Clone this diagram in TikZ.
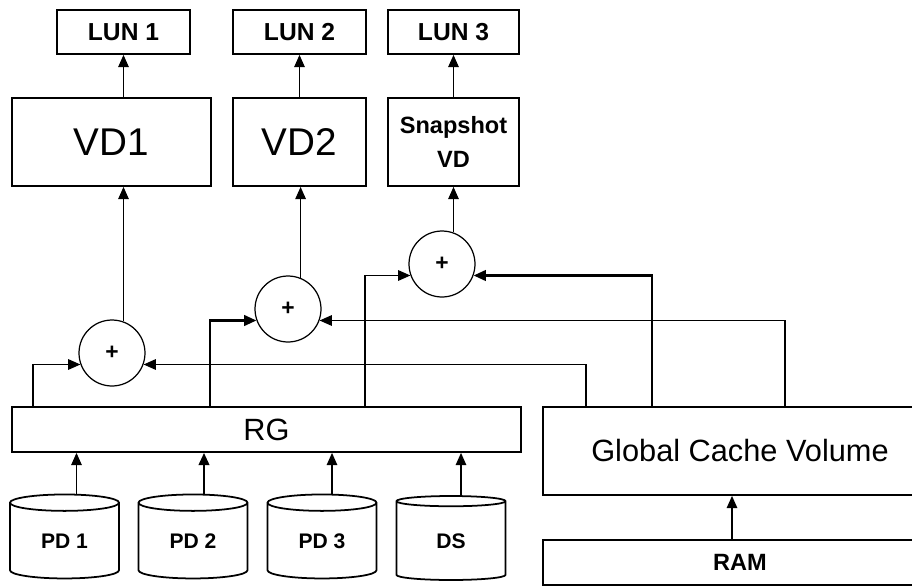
\documentclass[tikz,border=0pt]{standalone}
\usepackage{fontspec}
\setmainfont{Liberation Sans}
\usetikzlibrary{arrows.meta,shapes.geometric,calc}

\begin{document}
\begin{tikzpicture}[x=0.02cm, y=-0.02cm,
    blk/.style={draw, line width=1pt, inner sep=0pt, align=center},
    sum/.style={draw, circle, line width=0.7pt, minimum size=1.32cm,
                inner sep=0pt, font=\bfseries\fontsize{13}{15}\selectfont},
    disk/.style={draw, cylinder, shape border rotate=90, aspect=0.35,
                 line width=1pt, minimum width=2.18cm, minimum height=1.68cm,
                 inner sep=0pt, font=\bfseries\fontsize{12}{14}\selectfont},
    arr/.style={-{Triangle[length=7pt,width=6pt]}, line width=0.8pt},
    thickarr/.style={arr, line width=1.4pt},
]
    \useasboundingbox (0,0) rectangle (912,585);

    \node[blk, minimum width=2.66cm, minimum height=0.88cm,
          font=\bfseries\fontsize{14}{16}\selectfont] (lun1) at (123.5,32) {LUN 1};
    \node[blk, minimum width=2.66cm, minimum height=0.88cm,
          font=\bfseries\fontsize{14}{16}\selectfont] (lun2) at (299.5,32) {LUN 2};
    \node[blk, minimum width=2.62cm, minimum height=0.88cm,
          font=\bfseries\fontsize{14}{16}\selectfont] (lun3) at (453.5,32) {LUN 3};

    \node[blk, minimum width=3.98cm, minimum height=1.76cm,
          font=\fontsize{22}{26}\selectfont] (vd1) at (111.5,142) {VD1};
    \node[blk, minimum width=2.66cm, minimum height=1.76cm,
          font=\fontsize{22}{26}\selectfont] (vd2) at (299.5,142) {VD2};
    \node[blk, minimum width=2.62cm, minimum height=1.76cm,
          font=\bfseries\fontsize{13.4}{19}\selectfont] (snap) at (453.5,142) {Snapshot\\VD};

    \node[sum] (sum1) at (112,353) {+};
    \node[sum] (sum2) at (288,309) {+};
    \node[sum] (sum3) at (442,264) {+};

    \node[blk, minimum width=10.18cm, minimum height=0.9cm,
          font=\fontsize{17.5}{20}\selectfont] (rg) at (266.5,429.5) {RG};
    \node[blk, minimum width=7.88cm, minimum height=1.76cm,
          font=\fontsize{17.5}{20}\selectfont] (gcv) at (740,451) {Global Cache Volume};
    \node[blk, minimum width=7.88cm, minimum height=0.9cm,
          font=\bfseries\fontsize{13.4}{16}\selectfont] (ram) at (740,562.5) {RAM};

    \node[disk] (pd1) at (64.5,541) {PD 1};
    \node[disk] (pd2) at (193,541) {PD 2};
    \node[disk] (pd3) at (322,541) {PD 3};
    \node[disk] (ds) at (451,541) {DS};

    \coordinate (pd1t) at ($(pd1.north)+(12,0)$);
    \coordinate (pd2t) at ($(pd2.north)+(11,0)$);
    \coordinate (pd3t) at ($(pd3.north)+(10,0)$);
    \coordinate (dst) at ($(ds.north)+(10,0)$);
    \coordinate (ramt) at ($(ram.north)+(-8,0)$);

    \draw[arr] (lun1.south |- vd1.north) -- (lun1.south);
    \draw[arr] (lun2.south |- vd2.north) -- (lun2.south);
    \draw[arr] (lun3.south |- snap.north) -- (lun3.south);

    \draw[arr] (sum1.70) -- (sum1.70 |- vd1.south);
    \draw[arr] (sum2.68) -- (sum2.68 |- vd2.south);
    \draw[arr] (sum3.70) -- (sum3.70 |- snap.south);

    \draw[arr] ($(rg.north west)+(22,0)$) |- (sum1.200);
    \draw[thickarr] ($(rg.north west)+(199,0)$) |- (sum2.200);
    \draw[arr] ($(rg.north west)+(354,0)$) |- (sum3.200);
    \draw[arr] ($(gcv.north west)+(44,0)$) |- (sum1.-20);
    \draw[arr] ($(gcv.north west)+(243,0)$) |- (sum2.-20);
    \draw[thickarr] ($(gcv.north west)+(110,0)$) |- (sum3.-20);

    \draw[arr] (pd1t) -- (pd1t |- rg.south);
    \draw[thickarr] (pd2t) -- (pd2t |- rg.south);
    \draw[arr] (pd3t) -- (pd3t |- rg.south);
    \draw[arr] (dst) -- (dst |- rg.south);

    \draw[arr] (ramt) -- (ramt |- gcv.south);
\end{tikzpicture}
\end{document}
